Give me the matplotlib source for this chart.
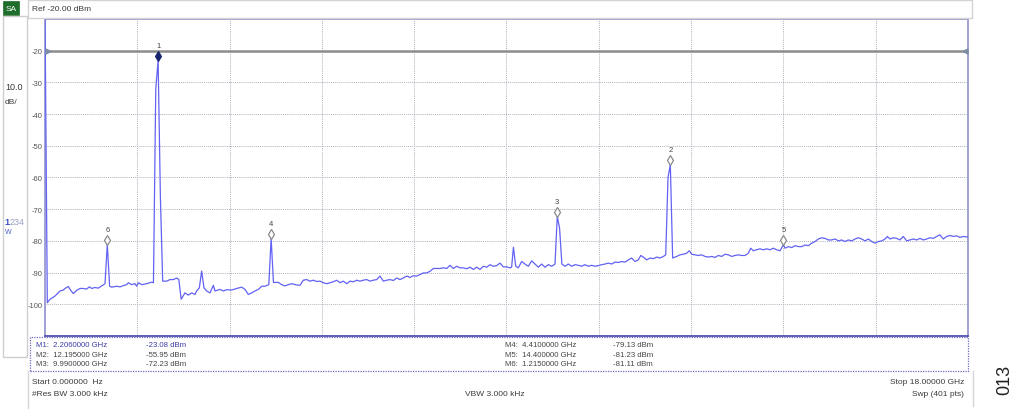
import matplotlib
matplotlib.use('Agg')
import matplotlib.pyplot as plt
from matplotlib.patches import Rectangle
from matplotlib.lines import Line2D
from matplotlib.transforms import offset_copy

plt.rcParams['font.family'] = ['Liberation Sans', 'DejaVu Sans']

# ---------------- data ----------------
trace_freq_ghz = [
    0.000, 0.045, 0.098, 0.195, 0.293, 0.357, 0.390, 0.455, 0.488, 0.552,
    0.618, 0.683, 0.747, 0.813, 0.864, 0.911, 0.975, 1.040, 1.106, 1.170,
    1.215, 1.260, 1.300, 1.398, 1.463, 1.527, 1.593, 1.625, 1.690, 1.755,
    1.788, 1.820, 1.886, 1.983, 2.081, 2.115, 2.160, 2.206, 2.250, 2.295,
    2.372, 2.438, 2.503, 2.568, 2.610, 2.655, 2.730, 2.795, 2.860, 2.925,
    2.958, 3.010, 3.055, 3.100, 3.153, 3.218, 3.283, 3.315, 3.413, 3.478,
    3.543, 3.641, 3.738, 3.836, 3.900, 3.965, 4.031, 4.095, 4.160, 4.226,
    4.290, 4.365, 4.410, 4.455, 4.550, 4.616, 4.680, 4.745, 4.811, 4.908,
    4.973, 5.037, 5.103, 5.168, 5.233, 5.298, 5.363, 5.427, 5.493, 5.558,
    5.623, 5.689, 5.753, 5.817, 5.884, 5.948, 6.013, 6.079, 6.143, 6.207,
    6.274, 6.338, 6.403, 6.469, 6.533, 6.598, 6.664, 6.728, 6.793, 6.859,
    6.923, 6.988, 7.054, 7.118, 7.183, 7.249, 7.313, 7.378, 7.444, 7.508,
    7.573, 7.639, 7.703, 7.768, 7.834, 7.898, 7.963, 8.029, 8.093, 8.158,
    8.224, 8.288, 8.353, 8.419, 8.483, 8.548, 8.614, 8.678, 8.743, 8.809,
    8.873, 8.938, 9.004, 9.068, 9.100, 9.135, 9.180, 9.230, 9.296, 9.361,
    9.426, 9.491, 9.556, 9.621, 9.686, 9.751, 9.816, 9.881, 9.946, 9.990,
    10.035, 10.080, 10.141, 10.206, 10.271, 10.336, 10.401, 10.466, 10.531, 10.596,
    10.661, 10.726, 10.791, 10.857, 10.921, 10.986, 11.051, 11.116, 11.181, 11.246,
    11.311, 11.376, 11.441, 11.506, 11.571, 11.618, 11.669, 11.734, 11.799, 11.864,
    11.929, 11.994, 12.059, 12.105, 12.150, 12.195, 12.240, 12.319, 12.384, 12.448,
    12.514, 12.565, 12.611, 12.676, 12.741, 12.807, 12.871, 12.936, 13.002, 13.066,
    13.131, 13.197, 13.261, 13.326, 13.392, 13.456, 13.521, 13.587, 13.651, 13.716,
    13.762, 13.813, 13.879, 13.944, 14.008, 14.074, 14.139, 14.204, 14.269, 14.334,
    14.400, 14.432, 14.498, 14.563, 14.627, 14.692, 14.758, 14.822, 14.887, 14.952,
    15.017, 15.082, 15.148, 15.212, 15.277, 15.342, 15.407, 15.472, 15.537, 15.602,
    15.667, 15.732, 15.797, 15.862, 15.927, 15.992, 16.057, 16.122, 16.187, 16.252,
    16.318, 16.382, 16.427, 16.479, 16.543, 16.609, 16.673, 16.738, 16.804, 16.868,
    16.933, 16.999, 17.063, 17.128, 17.194, 17.258, 17.323, 17.389, 17.453, 17.518,
    17.584, 17.648, 17.713, 17.779, 17.843, 17.908, 18.000,
]
trace_dbm = [
    -8.0, -99.5, -98.4, -97.4, -95.8, -95.5, -95.0, -94.4, -95.3, -96.6,
    -95.6, -95.0, -95.0, -95.2, -94.5, -95.0, -94.7, -94.9, -94.2, -93.5,
    -81.11, -94.3, -94.6, -94.3, -94.5, -94.1, -93.8, -93.2, -93.8, -93.5,
    -94.3, -93.2, -93.8, -93.5, -93.0, -93.2, -32.0, -23.08, -66.0, -92.7,
    -92.7, -92.2, -92.2, -91.7, -92.2, -98.4, -96.4, -97.1, -96.4, -96.9,
    -95.8, -94.8, -89.5, -94.8, -95.8, -96.4, -94.0, -95.8, -95.3, -95.8,
    -95.4, -95.5, -95.0, -94.6, -95.3, -96.9, -96.4, -95.8, -95.3, -94.3,
    -94.3, -93.8, -79.13, -93.1, -93.1, -93.8, -94.2, -93.8, -93.5, -93.9,
    -94.0, -92.4, -92.2, -92.7, -92.4, -92.8, -92.7, -93.2, -93.5, -93.2,
    -92.9, -92.4, -93.2, -92.7, -93.5, -92.7, -92.9, -92.4, -92.7, -92.4,
    -92.2, -92.7, -92.4, -92.2, -91.1, -92.7, -92.4, -92.2, -92.5, -91.7,
    -92.2, -91.7, -91.1, -91.5, -91.0, -91.1, -90.6, -90.1, -90.1, -89.6,
    -88.7, -88.7, -88.7, -88.5, -88.7, -87.7, -88.7, -88.0, -88.5, -88.5,
    -88.8, -88.3, -89.0, -88.3, -89.0, -88.0, -88.3, -87.5, -88.0, -87.8,
    -87.0, -88.2, -88.2, -88.5, -88.3, -82.0, -88.0, -88.5, -86.5, -87.3,
    -88.0, -86.3, -87.3, -88.3, -87.3, -88.3, -87.5, -88.0, -87.3, -72.23,
    -76.0, -87.3, -88.0, -87.3, -88.0, -87.5, -87.7, -88.0, -87.5, -88.0,
    -87.7, -88.0, -87.8, -87.5, -87.3, -87.0, -87.3, -86.7, -86.8, -86.5,
    -86.7, -86.0, -85.4, -86.5, -86.0, -84.6, -85.1, -86.0, -85.4, -85.6,
    -85.1, -85.4, -84.9, -84.4, -60.0, -55.95, -85.4, -84.9, -84.4, -84.2,
    -83.9, -83.1, -84.2, -84.4, -84.6, -84.4, -84.9, -85.1, -84.9, -85.2,
    -84.6, -84.9, -84.2, -84.4, -84.9, -84.6, -84.4, -84.6, -84.6, -83.9,
    -82.3, -83.1, -82.8, -82.5, -82.8, -82.5, -82.8, -82.3, -82.8, -83.1,
    -81.23, -82.3, -81.8, -82.1, -81.5, -81.8, -81.8, -81.3, -81.5, -80.7,
    -80.2, -79.4, -79.0, -79.2, -79.7, -79.7, -79.4, -80.0, -79.7, -80.2,
    -79.7, -80.0, -79.4, -79.0, -79.4, -80.0, -79.4, -80.2, -80.7, -80.2,
    -80.0, -79.4, -78.6, -79.4, -79.0, -79.2, -79.7, -78.6, -80.0, -79.7,
    -79.4, -79.7, -79.2, -79.7, -79.4, -79.0, -79.2, -78.6, -78.1, -79.4,
    -78.6, -78.3, -78.6, -78.4, -78.9, -78.6, -78.8,
]

marker_ids = ['1', '2', '3', '4', '5', '6']
marker_freq_ghz = [2.206, 12.195, 9.990, 4.410, 14.400, 1.215]
marker_dbm = [-23.08, -55.95, -72.23, -79.13, -81.23, -81.11]

ref_level_dbm = -20.0
y_ticks = [-20, -30, -40, -50, -60, -70, -80, -90, -100]
start_ghz, stop_ghz = 0.0, 18.0
scale_db = 10.0

# ---------------- figure ----------------
W, H = 1024, 410
fig = plt.figure(figsize=(W / 100, H / 100), dpi=100)
fig.patch.set_facecolor('white')


def fx(x):
    return x / W


def fy(y):
    return 1 - y / H


TXT = '#3a3a3a'
BORDER = '#9a9ad2'

# plot area
px0, px1, py0, py1 = 45, 968, 20, 337
ax = fig.add_axes([fx(px0), fy(py1), (px1 - px0) / W, (py1 - py0) / H])
ax.set_xlim(start_ghz, stop_ghz)
ax.set_ylim(ref_level_dbm - 9 * scale_db, ref_level_dbm + scale_db)
ax.set_xticks([start_ghz + i * (stop_ghz - start_ghz) / 10 for i in range(11)])
ax.set_xticklabels([])
ax.set_yticks(y_ticks)
ax.set_yticklabels([str(v) for v in y_ticks])
ax.set_yticks([-110, -10], minor=True)
ax.tick_params(axis='both', which='both', length=0, labelsize=5.5,
               labelcolor='#555555', pad=1.5)
ax.grid(True, which='both', color='#b4b8c2', linestyle=(0, (1, 1)), lw=0.75)
for s in ax.spines.values():
    s.set_color(BORDER)
    s.set_linewidth(1.3)
ax.spines['bottom'].set_color('#5050b0')

# reference level line and arrows
ax.axhline(ref_level_dbm, color='#8c8c8c', lw=1.8, zorder=2)
ax.plot([start_ghz], [ref_level_dbm], marker='>', ms=3.5, color='#7d8ea3',
        clip_on=False, zorder=4,
        transform=offset_copy(ax.transData, fig=fig, x=3, y=0, units='dots'))
ax.plot([stop_ghz], [ref_level_dbm], marker='<', ms=3.5, color='#7d8ea3',
        clip_on=False, zorder=4,
        transform=offset_copy(ax.transData, fig=fig, x=-3, y=0, units='dots'))

# trace
ax.plot(trace_freq_ghz, trace_dbm, color='#6262f4', lw=0.9, zorder=3)

# markers
mk_tr = offset_copy(ax.transData, fig=fig, x=0, y=4.3, units='dots')
lb_tr = offset_copy(ax.transData, fig=fig, x=0, y=15, units='dots')
for i, (mid, f, d) in enumerate(zip(marker_ids, marker_freq_ghz, marker_dbm)):
    if i == 0:
        ax.plot([f], [d], marker='d', ms=5.5, mfc='#17246e', mec='#17246e',
                mew=0.8, transform=mk_tr, zorder=6, clip_on=False)
    else:
        ax.plot([f], [d], marker='d', ms=5.5, mfc='white', mec='#8a8a8a',
                mew=0.9, transform=mk_tr, zorder=6, clip_on=False)
    ax.text(f, d, mid, transform=lb_tr, ha='center', va='center',
            fontsize=5.5, color='#444444', zorder=7)

# ---------------- frame decorations ----------------
# header box
fig.add_artist(Rectangle((fx(28), fy(19)), (972 - 28) / W, 18 / H,
                         transform=fig.transFigure, fill=False,
                         edgecolor='#d4d4d4', lw=1))
fig.text(fx(32), fy(9.5), 'Ref %.2f dBm' % ref_level_dbm, fontsize=6,
         color=TXT, va='center', ha='left')

# SA badge
fig.add_artist(Rectangle((fx(3), fy(16)), 16 / W, 14 / H,
                         transform=fig.transFigure, facecolor='#1f6e2b',
                         edgecolor='#1f6e2b', lw=0.5))
fig.text(fx(11), fy(9.3), 'SA', fontsize=6, color='white', ha='center',
         va='center')

# left panel
fig.add_artist(Rectangle((fx(3), fy(358)), 24 / W, (358 - 17) / H,
                         transform=fig.transFigure, fill=False,
                         edgecolor='#cfcfcf', lw=1))
fig.text(fx(5), fy(87), '%.1f' % scale_db, fontsize=6.5, color=TXT,
         va='center', ha='left')
fig.text(fx(5), fy(103), 'dB/', fontsize=6, color=TXT, va='center',
         ha='left')
fig.text(fx(4), fy(223), '1', fontsize=6.5, color='#3a4fd0',
         fontweight='bold', va='center', ha='left')
fig.text(fx(9.5), fy(223), '234', fontsize=6.5, color='#9aa2c4', va='center',
         ha='left')
fig.text(fx(4.5), fy(232.5), 'W', fontsize=5, color='#4a5ad0', va='center',
         ha='left')

# marker table
fig.add_artist(Rectangle((fx(30), fy(372)), (968 - 30) / W, (372 - 338) / H,
                         transform=fig.transFigure, fill=False,
                         edgecolor='#6a6ac0', lw=0.9, linestyle=(0, (1, 1))))
row_y = [346, 355.5, 364.5]


def ffmt(f):
    return ('%.7f' % f) if f < 10 else ('%.6f' % f)


for i, (mid, f, d) in enumerate(zip(marker_ids, marker_freq_ghz, marker_dbm)):
    col = 0 if i < 3 else 1
    y = row_y[i % 3]
    xm = 36 if col == 0 else 505
    xl = 146 if col == 0 else 613
    c = '#3d3da8' if i == 0 else '#444444'
    fig.text(fx(xm), fy(y), 'M%s:  %s GHz' % (mid, ffmt(f)), fontsize=5.6,
             color=c, va='center', ha='left')
    fig.text(fx(xl), fy(y), '%.2f dBm' % d, fontsize=5.6, color=c,
             va='center', ha='left')

# bottom info
fig.add_artist(Line2D([fx(28), fx(28)], [fy(372), fy(410)],
                      transform=fig.transFigure, color='#d6d6d6', lw=1))
fig.add_artist(Line2D([fx(973), fx(973)], [fy(372), fy(407)],
                      transform=fig.transFigure, color='#d6d6d6', lw=1))
fig.text(fx(32), fy(383), 'Start %.6f  Hz' % start_ghz, fontsize=6,
         color=TXT, va='center', ha='left')
fig.text(fx(32), fy(395), '#Res BW 3.000 kHz', fontsize=6, color=TXT,
         va='center', ha='left')
fig.text(fx(465), fy(395), 'VBW 3.000 kHz', fontsize=6, color=TXT,
         va='center', ha='left')
fig.text(fx(964), fy(383), 'Stop %.5f GHz' % stop_ghz, fontsize=6,
         color=TXT, va='center', ha='right')
fig.text(fx(964), fy(395), 'Swp (401 pts)', fontsize=6, color=TXT,
         va='center', ha='right')

# figure id
fig.text(fx(1005), fy(380), '013', fontsize=13, color='#222222',
         rotation=90, va='center', ha='center')

fig.savefig('out.png', dpi=100)
